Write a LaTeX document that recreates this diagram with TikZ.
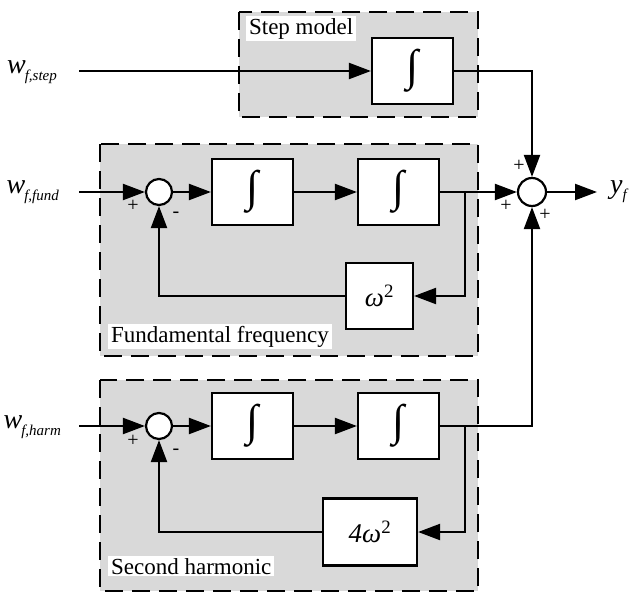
\documentclass[tikz,border=0pt]{standalone}
\usepackage{fontspec}
\setmainfont{Liberation Serif}
\usetikzlibrary{arrows.meta}

\newcommand{\wsig}[1]{{\fontsize{28}{28}\selectfont\itshape w}\kern-1pt\raisebox{-7pt}{\fontsize{15}{15}\selectfont\itshape #1}}
\newcommand{\integ}{{\fontsize{44}{44}\selectfont ∫}}

\begin{document}
\begin{tikzpicture}[x=1pt,y=-1pt,>={Triangle[length=22pt,width=16pt]},
                    line width=2.2pt,font=\fontsize{23}{26}\selectfont,
                    block/.style={rectangle,draw,fill=white,minimum width=81pt,minimum height=66pt,inner sep=0pt},
                    sum/.style={circle,draw,fill=white,minimum size=26pt,inner sep=0pt},
                    group/.style={draw,fill=black!15,line width=1.6pt,dash pattern=on 18pt off 9pt},
                    title/.style={fill=white,anchor=north west,inner xsep=3pt,inner ysep=2pt},
                    sign/.style={font=\fontsize{20}{20}\selectfont,inner sep=0pt}]
  \useasboundingbox (0,0) rectangle (634,592);
  % model groups
  \draw[group] (239,12) rectangle (478,117);
  \draw[group] (100,144) rectangle (478,356);
  \draw[group] (100,380) rectangle (478,591);
  \node[title] (steptitle) at (245,15) {Step model};
  \node[title] (fundtitle) at (107,323) {Fundamental frequency};
  \node[title] (harmtitle) at (107,555) {Second harmonic};

  % blocks
  \node[block] (stepint) at (412.5,71) {\integ};
  \node[sum] (fsum) at (159,192) {};
  \node[block] (fint1) at (252.5,192) {\integ};
  \node[block] (fint2) at (398.5,192) {\integ};
  \node[block,minimum width=67pt,font=\fontsize{27}{27}\selectfont] (fgain) at (379.5,296) {\textit{ω}\textsuperscript{2}};
  \node[sum] (hsum) at (159,426) {};
  \node[block] (hint1) at (252.5,426) {\integ};
  \node[block] (hint2) at (398.5,426) {\integ};
  \node[block,minimum width=94pt,minimum height=67pt,font=\fontsize{27}{27}\selectfont] (hgain) at (370,532) {\textit{4ω}\textsuperscript{2}};
  \node[sum,minimum size=28pt] (ysum) at (532,192) {};

  % signals
  \node[anchor=east,inner xsep=21pt] (wstep) at (79,72) {\wsig{f,step}};
  \node[anchor=east,inner xsep=19pt] (wfund) at (79,192) {\wsig{f,fund}};
  \node[anchor=east,inner xsep=17pt] (wharm) at (79,427) {\wsig{f,harm}};
  \node[anchor=west,inner xsep=12pt] (yout) at (597,192) {{\fontsize{28}{28}\selectfont\itshape y}\raisebox{-6pt}{\fontsize{15}{15}\selectfont\itshape f}};
  \coordinate (fbranch) at (465,192);
  \coordinate (hbranch) at (465,426);

  \draw[->] (wstep.east |- stepint) -- (stepint);
  \draw[->] (stepint) -| (ysum);
  \draw[->] (wfund.east |- fsum) -- (fsum);
  \draw[->] (fsum) -- (fint1);
  \draw[->] (fint1) -- (fint2);
  \draw[->] (fint2) -- (ysum);
  \draw[->] (fbranch) |- (fgain);
  \draw[->] (fgain) -| (fsum);
  \draw[->] (wharm.east |- hsum) -- (hsum);
  \draw[->] (hsum) -- (hint1);
  \draw[->] (hint1) -- (hint2);
  \draw[->] (hint2) -| (ysum);
  \draw[->] (hbranch) |- (hgain);
  \draw[->] (hgain) -| (hsum);
  \draw[->] (ysum) -- (yout);

  % signs
  \node[sign] (fplus) at (133,206) {+};
  \node[sign] (fminus) at (176,215) {-};
  \node[sign] (hplus) at (133,441) {+};
  \node[sign] (hminus) at (176,452) {-};
  \node[sign] (yplus1) at (519,166) {+};
  \node[sign] (yplus2) at (506,206) {+};
  \node[sign] (yplus3) at (545,215) {+};
\end{tikzpicture}
\end{document}
